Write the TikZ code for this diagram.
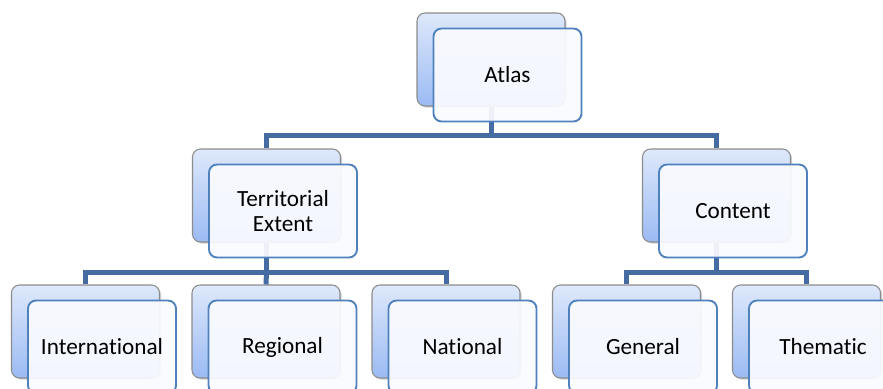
\documentclass[tikz,border=0pt]{standalone}
\usepackage{fontspec}
\setmainfont{Carlito}[Ligatures=NoCommon]
\usetikzlibrary{shadows}
\definecolor{connblue}{RGB}{68,108,162}
\definecolor{backtop}{RGB}{222,232,251}
\definecolor{backbot}{RGB}{155,187,244}
\definecolor{frontfill}{RGB}{250,251,255}
\definecolor{frontline}{RGB}{79,129,189}
\begin{document}
\begin{tikzpicture}[x=0.75pt,y=-0.75pt,
  backbox/.style={rectangle, rounded corners=6pt, inner sep=0pt,
    minimum width=111pt, minimum height=69.75pt,
    draw=black!45, line width=0.8pt,
    top color=backtop, bottom color=backbot,
    drop shadow={opacity=0.35, shadow xshift=1.2pt, shadow yshift=-1.2pt}},
  frontbox/.style={rectangle, rounded corners=6pt, inner sep=0pt,
    minimum width=111pt, minimum height=69.75pt,
    draw=frontline, line width=1.4pt, fill=frontfill, fill opacity=0.93,
    text opacity=1, align=center,
    font=\fontsize{17.4}{19}\selectfont},
  conn/.style={draw=connblue, line width=3.75pt, line join=miter}]
\useasboundingbox (0,0) rectangle (883,389);
\fill[white] (0,0) rectangle (883,389);
% back boxes
\node[backbox] (bA) at (491,59.5) {};
\node[backbox] (bT) at (266.5,195.5) {};
\node[backbox] (bC) at (716.5,195.5) {};
\node[backbox] (bI) at (85.5,331.5) {};
\node[backbox] (bR) at (266,331.5) {};
\node[backbox] (bN) at (446,331.5) {};
\node[backbox] (bG) at (626.5,331.5) {};
\node[backbox] (bH) at (806.5,331.5) {};
% connectors
\draw[conn] (bA.south) -- ++(0,28.5) coordinate (j1);
\draw[conn] (bT.north) |- (j1) -| (bC.north);
\draw[conn] (bT.south) -- ++(0,29.5) coordinate (j2);
\draw[conn] (bI.north) |- (j2) -| (bN.north);
\draw[conn] (j2) -- (bR.north);
\draw[conn] (bC.south) -- ++(0,29.5) coordinate (j3);
\draw[conn] (bG.north) |- (j3) -| (bH.north);
% front boxes
\node[frontbox] (fA) at (507.5,75) {Atlas};
\node[frontbox] (fT) at (283,211) {Territorial\\Extent};
\node[frontbox] (fC) at (733,211) {Content};
\node[frontbox] (fI) at (102,347) {International};
\node[frontbox] (fR) at (282.5,347) {Regional};
\node[frontbox] (fN) at (462.5,347) {National};
\node[frontbox] (fG) at (643,347) {General};
\node[frontbox] (fH) at (823,347) {Thematic};
\end{tikzpicture}
\end{document}
